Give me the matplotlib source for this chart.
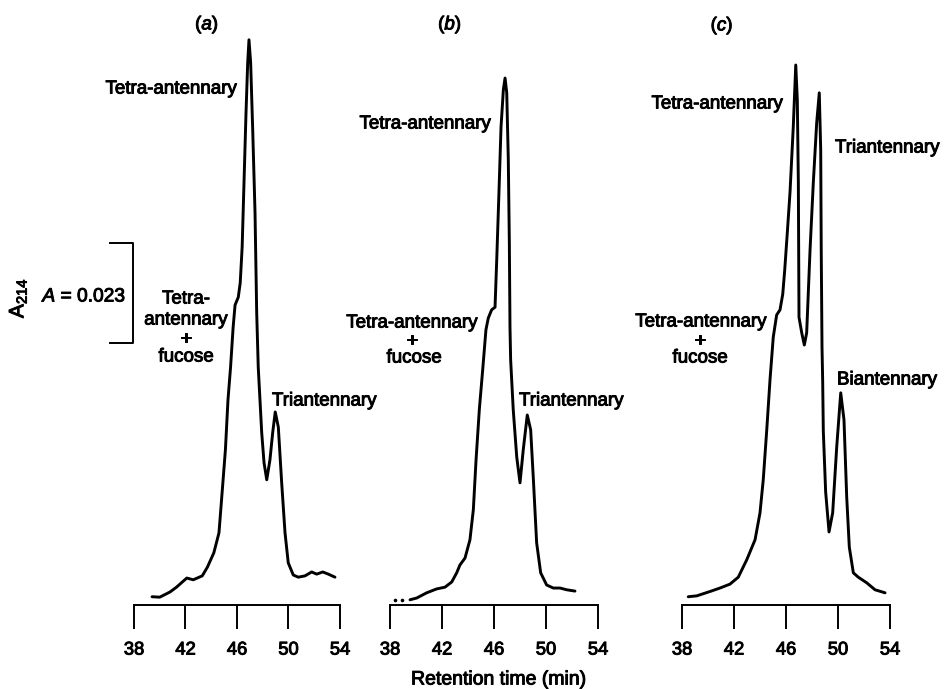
import matplotlib
matplotlib.use("Agg")
import matplotlib.pyplot as plt
import matplotlib.patheffects as pe

plt.rcParams['font.family'] = ['Liberation Sans', 'DejaVu Sans']
plt.rcParams['mathtext.fontset'] = 'custom'
plt.rcParams['mathtext.rm'] = 'Liberation Sans'
plt.rcParams['mathtext.it'] = 'Liberation Sans:italic'

# ---- data: retention time (min) and absorbance at 214 nm (mAU) ----
t_a = [39.4, 40.0, 40.8, 41.3, 42.1, 42.6, 43.3, 43.7, 44.2, 44.6, 44.8, 45.1, 45.3,
       45.5, 45.7, 45.85, 46.1, 46.25, 46.4, 46.55, 46.7, 46.83, 46.93, 47.06, 47.22,
       47.4, 47.53, 47.65, 47.92, 48.1, 48.31, 48.56, 48.77, 48.97, 49.21, 49.47,
       49.73, 49.98, 50.37, 50.76, 51.28, 51.8, 52.19, 52.66, 53.09, 53.61]
A_a = [1.9, 1.8, 3.0, 4.1, 6.2, 5.8, 6.7, 8.7, 12.0, 16.6, 24.2, 35.7, 47.2,
       54.7, 63.9, 69.0, 70.8, 74.1, 82.3, 97.8, 113.2, 124.7, 130.0, 124.7, 109.3,
       90.2, 67.2, 54.7, 39.6, 32.7, 28.8, 33.4, 39.6, 44.4, 40.9, 28.1,
       16.6, 9.7, 6.9, 6.4, 6.7, 7.6, 7.1, 7.6, 7.1, 6.4]

t_b = [39.54, 40.05, 40.82, 41.59, 42.23, 42.75, 43.13, 43.38, 43.77, 44.15, 44.41,
       44.62, 44.87, 45.13, 45.38, 45.56, 45.82, 46.08, 46.21, 46.38, 46.54, 46.72,
       46.85, 46.98, 47.10, 47.18, 47.23, 47.28, 47.48, 47.75, 48.0, 48.25, 48.56,
       48.82, 49.02, 49.28, 49.59, 50.05, 50.56, 51.08, 51.59, 52.23]
A_b = [1.2, 1.6, 2.8, 3.7, 4.1, 5.3, 7.4, 9.2, 10.8, 15.0, 21.9,
       33.4, 44.9, 54.1, 63.3, 66.0, 67.9, 68.5, 79.4, 94.8, 109.9, 118.5,
       121.2, 117.8, 102.4, 83.3, 63.9, 56.4, 44.9, 34.0, 28.1, 35.7, 43.7,
       40.3, 29.4, 14.3, 7.4, 4.6, 3.9, 3.9, 3.5, 3.2]
t_b_dots = [38.38, 38.9]
A_b_dots = [1.2, 1.2]

t_c = [38.48, 39.13, 40.15, 40.92, 41.69, 42.33, 42.98, 43.62, 44.0, 44.25, 44.52,
       44.77, 45.02, 45.28, 45.54, 45.75, 45.9, 46.1, 46.31, 46.56, 46.75, 46.87,
       46.95, 47.0, 47.21, 47.41, 47.59, 47.85, 48.10, 48.36, 48.56, 48.67, 48.71,
       48.77, 48.82, 48.87, 49.05, 49.31, 49.59, 49.9, 50.21, 50.46, 50.67, 50.87,
       51.18, 51.56, 52.21, 52.85, 53.62]
A_c = [1.9, 2.1, 3.1, 3.9, 4.8, 6.4, 10.4, 15.0, 21.2, 28.8, 40.3,
       51.8, 61.6, 66.7, 67.9, 71.5, 77.0, 85.6, 95.0, 110.0, 124.2, 116.2,
       97.1, 66.2, 62.6, 59.8, 62.6, 81.7, 97.1, 110.9, 117.8, 104.7, 81.7,
       59.3, 51.8, 40.0, 26.0, 16.8, 21.2, 36.3, 48.8, 42.6, 24.8, 13.3,
       7.4, 6.4, 5.1, 3.5, 2.8]

xticks = [38, 42, 46, 50, 54]
scale_bar = 23.0  # mAU  (A = 0.023)

W, H = 945, 689
fig = plt.figure(figsize=(W / 100, H / 100), dpi=100)
bold = [pe.withStroke(linewidth=0.7, foreground='black')]

def fx(px):
    return px / W

def fy(py):
    return 1 - py / H

y0_px, ytop_px = 605, 30
ymax = (y0_px - ytop_px) * 0.23
panels = [(134, 340, t_a, A_a), (390, 598, t_b, A_b), (682, 890, t_c, A_c)]
axes = []
for left, right, t, A in panels:
    ax = fig.add_axes([fx(left), fy(y0_px), (right - left) / W, (y0_px - ytop_px) / H])
    ax.plot(t, A, color='black', lw=2.1, solid_joinstyle='round', solid_capstyle='round')
    ax.set_xlim(38, 54)
    ax.set_ylim(0, ymax)
    for s in ['top', 'left', 'right']:
        ax.spines[s].set_visible(False)
    ax.spines['bottom'].set_linewidth(1.4)
    ax.set_yticks([])
    ax.set_xticks(xticks)
    ax.set_xticklabels([str(v) for v in xticks])
    ax.tick_params(axis='x', direction='out', length=17.3, width=1.4, pad=9,
                   labelsize=13.2)
    for lab in ax.get_xticklabels():
        lab.set_path_effects(bold)
    ax.patch.set_alpha(0)
    axes.append(ax)

axes[1].plot(t_b_dots, A_b_dots, 'o', color='black', ms=1.6, clip_on=False)

# scale bar on panel a
ax = axes[0]
sb_x, sb_tick = 37.92, 36.15
sb_lo = 60.3
ax.plot([sb_tick, sb_x, sb_x, sb_tick], [sb_lo + scale_bar, sb_lo + scale_bar, sb_lo, sb_lo],
        color='black', lw=1.4, clip_on=False)

def label(x, y, s, ha='left', size=13.5, **kw):
    fig.text(fx(x), fy(y), s, ha=ha, va='center', fontsize=size, path_effects=bold, **kw)

# panel titles
label(207, 25, r'($\mathit{a}$)', ha='center')
label(450, 25, r'($\mathit{b}$)', ha='center')
label(722, 26, r'($\mathit{c}$)', ha='center')

# panel a
label(237, 89, 'Tetra-antennary', ha='right')
label(186, 299, 'Tetra-', ha='center')
label(186, 320, 'antennary', ha='center')
label(186, 339, '+', ha='center')
label(186, 357, 'fucose', ha='center')
label(272, 401, 'Triantennary')

# panel b
label(491, 124, 'Tetra-antennary', ha='right')
label(412, 323, 'Tetra-antennary', ha='center')
label(412, 341, '+', ha='center')
label(414, 358, 'fucose', ha='center')
label(519, 401, 'Triantennary')

# panel c
label(783, 104, 'Tetra-antennary', ha='right')
label(835, 148, 'Triantennary')
label(701, 322, 'Tetra-antennary', ha='center')
label(700, 341, '+', ha='center')
label(700, 358, 'fucose', ha='center')
label(837, 380, 'Biantennary')

# scale label
label(127, 297, r'$\mathit{A}$ = 0.023', ha='right', size=13.8)
fig.text(fx(18), fy(298), r'$\mathrm{A}_{214}$', rotation=90, ha='center', va='center',
         fontsize=15, path_effects=bold)

fig.text(fx(499), fy(680), 'Retention time (min)', ha='center', va='center', fontsize=14,
         path_effects=bold)

fig.savefig('out.png', dpi=100)
